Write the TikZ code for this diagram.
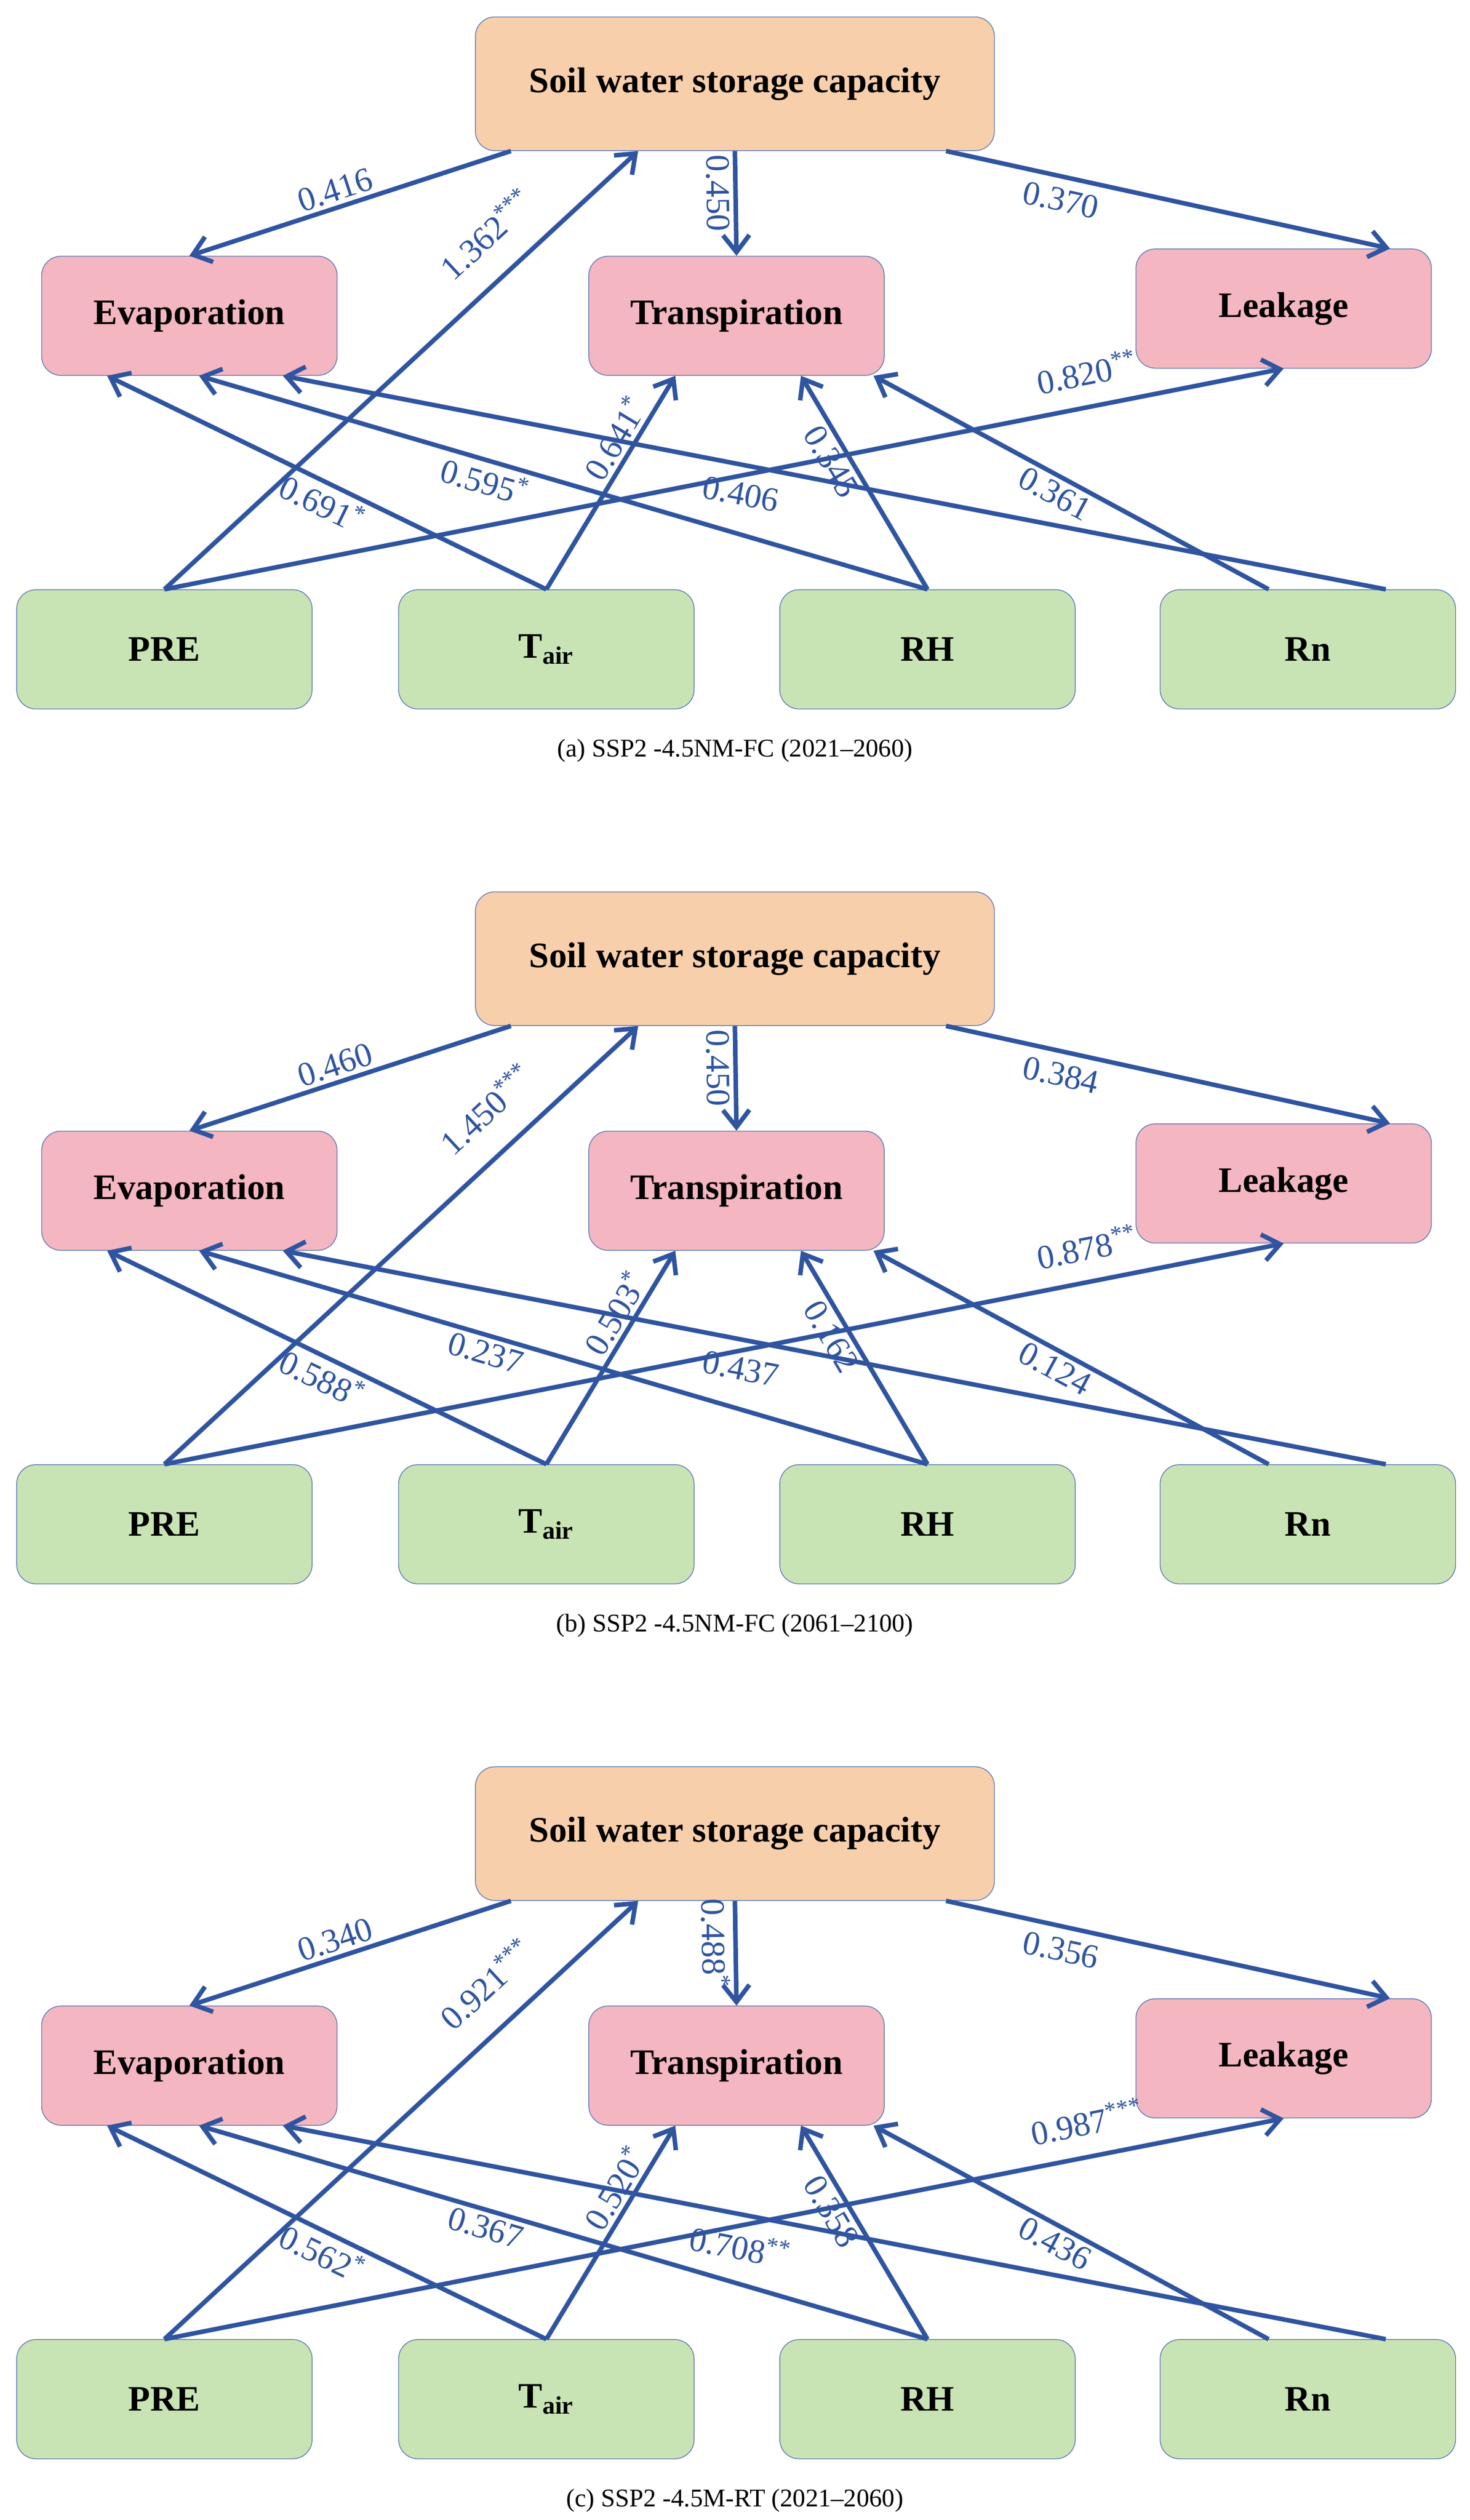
\documentclass[tikz,border=0pt]{standalone}
\usepackage{fontspec}
\setmainfont{Liberation Serif}
\usetikzlibrary{arrows.meta,positioning}
\definecolor{arrowblue}{RGB}{47,84,160}
\definecolor{soilfill}{RGB}{248,207,171}
\definecolor{fluxfill}{RGB}{244,182,192}
\definecolor{driverfill}{RGB}{201,228,180}

\begin{document}
\begin{tikzpicture}
  [x=0.03cm,y=-0.03cm,
  box/.style={draw=arrowblue!80,thin,rounded corners=0.36cm,
    minimum width=5.5cm,minimum height=2.22cm,
    font=\fontsize{19}{22}\selectfont\bfseries},
  soil/.style={box,fill=soilfill,minimum width=9.66cm,minimum height=2.49cm},
  flux/.style={box,fill=fluxfill},
  driver/.style={box,fill=driverfill},
  link/.style={draw=arrowblue,line width=2.4pt,-{Straight Barb[length=9pt,width=14pt,line width=2.4pt]}},
  w/.style={font=\fontsize{18}{20}\selectfont,text=arrowblue,sloped,inner sep=2pt},
  caption/.style={font=\fontsize{13.5}{16}\selectfont}]

  \useasboundingbox (0,0) rectangle (912,1564);

  \foreach \i/\dy/\se/\st/\sl/\ps/\pl/\te/\tr/\re/\rt/\ne/\nt/\cp in {
    a/0/0.416/0.450/0.370/1.362\textsuperscript{***}/0.820\textsuperscript{**}/0.691\textsuperscript{*}/0.641\textsuperscript{*}/0.595\textsuperscript{*}/0.345/0.406/0.361/(a) SSP2 -4.5NM-FC (2021--2060),
    b/543/0.460/0.450/0.384/1.450\textsuperscript{***}/0.878\textsuperscript{**}/0.588\textsuperscript{*}/0.503\textsuperscript{*}/0.237/0.162/0.437/0.124/(b) SSP2 -4.5NM-FC (2061--2100),
    c/1086/0.340/0.488\textsuperscript{*}/0.356/0.921\textsuperscript{***}/0.987\textsuperscript{***}/0.562\textsuperscript{*}/0.520\textsuperscript{*}/0.367/0.358/0.708\textsuperscript{**}/0.436/(c) SSP2 -4.5M-RT (2021--2060)}
  {
    \begin{scope}[yshift=-\dy*0.03cm]
      % boxes
      \node[soil] (soil\i) at (456,52) {Soil water storage capacity};
      \node[flux] (evap\i) at (117.5,196) {Evaporation};
      \node[flux] (trans\i) at (457,196) {Transpiration};
      \node[flux] (leak\i) at (796.5,191.5) {Leakage};
      \node[driver] (pre\i) at (102,403) {PRE};
      \node[driver] (tair\i) at (339,403) {T\textsubscript{air}};
      \node[driver] (rh\i) at (575.5,403) {RH};
      \node[driver] (rn\i) at (811.5,403) {Rn};
      \node[caption] (cap\i) at (456,466) {\cp};

      % soil water paths
      \draw[link] ([xshift=-4.17cm]soil\i.south) -- (evap\i.north) node[w,pos=0.53,above]{\se};
      \draw[link] (soil\i.south) -- (trans\i.north) node[w,pos=0.4,below]{\st};
      \draw[link] ([xshift=3.93cm]soil\i.south) -- ([xshift=1.98cm]leak\i.north) node[w,pos=0.27,below=3pt]{\sl};

      % driver paths
      \draw[link] (pre\i.north) -- ([xshift=-1.8cm]soil\i.south) node[w,pos=0.74,above=12pt]{\ps};
      \draw[link] (pre\i.north) -- (leak\i.south) node[w,pos=0.83,above=8pt]{\pl};
      \draw[link] (tair\i.north) -- ([xshift=-1.53cm]evap\i.south) node[w,pos=0.49,below]{\te};
      \draw[link] (tair\i.north) -- ([xshift=-1.14cm]trans\i.south) node[w,pos=0.66,above]{\tr};
      \draw[link] (rh\i.north) -- ([xshift=0.18cm]evap\i.south) node[w,pos=0.6,below]{\re};
      \draw[link] (rh\i.north) -- ([xshift=1.2cm]trans\i.south) node[w,pos=0.64,below]{\rt};
      \draw[link] ([xshift=1.45cm]rn\i.north) -- ([xshift=1.74cm]evap\i.south) node[w,pos=0.58,below=6pt]{\ne};
      \draw[link] ([xshift=-0.73cm]rn\i.north) -- ([xshift=2.55cm]trans\i.south) node[w,pos=0.52,below]{\nt};
    \end{scope}
  }
\end{tikzpicture}
\end{document}
